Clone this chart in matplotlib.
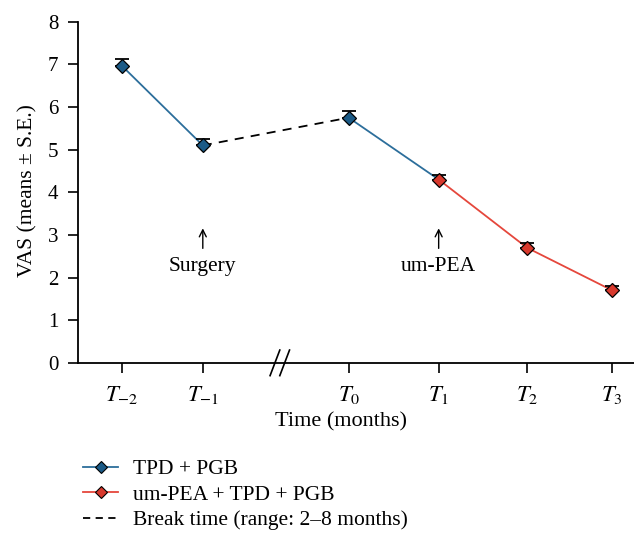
import numpy as np
import matplotlib.pyplot as plt
from matplotlib.lines import Line2D

plt.rcParams['font.family'] = ['Liberation Serif', 'DejaVu Serif']
plt.rcParams['mathtext.fontset'] = 'stix'

# data
time_labels = [r'$T_{-2}$', r'$T_{-1}$', r'$T_0$', r'$T_1$', r'$T_2$', r'$T_3$']
vas_mean = [6.97, 5.1, 5.75, 4.3, 2.7, 1.7]
vas_se = [0.16, 0.16, 0.16, 0.1, 0.12, 0.1]
legend_labels = ['TPD + PGB', 'um-PEA + TPD + PGB', 'Break time (range: 2\u20138 months)']

# x positions on the broken axis
xpos = np.array([0, 1, 2.8, 3.91, 5.0, 6.05])
break_x = 1.96

blue = '#2c6e9b'
blue_m = '#1b5a86'
red = '#e5473c'
red_m = '#d8392d'

fig = plt.figure(figsize=(6.34, 5.44), dpi=100)
ax = fig.add_axes([0.123, 0.333, 0.877, 0.627])

# lines
ax.plot(xpos[0:2], vas_mean[0:2], color=blue, lw=1.3, zorder=2)
ax.plot(xpos[1:3], vas_mean[1:3], color='black', lw=1.3, ls=(0, (5, 4)), zorder=2)
ax.plot(xpos[2:4], vas_mean[2:4], color=blue, lw=1.3, zorder=2)
ax.plot(xpos[3:6], vas_mean[3:6], color=red, lw=1.3, zorder=2)

# error bars (upper only)
ax.errorbar(xpos, vas_mean, yerr=[np.zeros(len(vas_se)), vas_se], fmt='none',
            ecolor='black', elinewidth=1.0, capsize=5, capthick=1.3, zorder=3)

# markers
ax.plot(xpos[0:3], vas_mean[0:3], 'D', ms=7.5, mfc=blue_m, mec='black', mew=0.9, ls='none', zorder=4)
ax.plot(xpos[3:6], vas_mean[3:6], 'D', ms=7.5, mfc=red_m, mec='black', mew=0.9, ls='none', zorder=4)

# event arrows
for x, lab in [(xpos[1], 'Surgery'), (xpos[3], 'um-PEA')]:
    ax.annotate('', xy=(x, 3.22), xytext=(x, 2.62),
                arrowprops=dict(arrowstyle='->,head_length=0.5,head_width=0.25',
                                color='black', lw=1.0))
    ax.text(x, 2.25, lab, ha='center', va='center', fontsize=15.5)

# axis break mark
for dx in (-0.07, 0.05):
    ax.plot([break_x + dx - 0.06, break_x + dx + 0.06], [-0.3, 0.3],
            color='black', lw=1.2, clip_on=False, zorder=5)

ax.set_xlim(-0.54, 6.32)
ax.set_ylim(0, 8)
ax.set_xticks(xpos)
ax.set_xticklabels(time_labels)
ax.set_yticks(range(0, 9))
ax.tick_params(direction='out', length=7, width=1.2, labelsize=15)
ax.tick_params(axis='y', pad=7)
ax.tick_params(axis='x', pad=8, labelsize=16.5)
for s in ['top', 'right']:
    ax.spines[s].set_visible(False)
for s in ['left', 'bottom']:
    ax.spines[s].set_linewidth(1.3)

ax.set_ylabel('VAS (means \u00b1 S.E.)', fontsize=15.5)
ax.yaxis.set_label_coords(-0.072, 0.505)
ax.set_xlabel('Time (months)', fontsize=16)
ax.xaxis.set_label_coords(0.473, -0.145)

handles = [
    Line2D([], [], color=blue, lw=1.3, marker='D', ms=6, mfc=blue_m, mec='black', mew=0.8),
    Line2D([], [], color=red, lw=1.3, marker='D', ms=6, mfc=red_m, mec='black', mew=0.8),
    Line2D([], [], color='black', lw=1.3, ls=(0, (4, 3))),
]
fig.legend(handles, legend_labels, loc='upper left', bbox_to_anchor=(0.118, 0.172),
           frameon=False, fontsize=15.5, handlelength=1.6, handletextpad=0.7,
           labelspacing=0.26, borderaxespad=0)

fig.savefig('out.png', dpi=100)
